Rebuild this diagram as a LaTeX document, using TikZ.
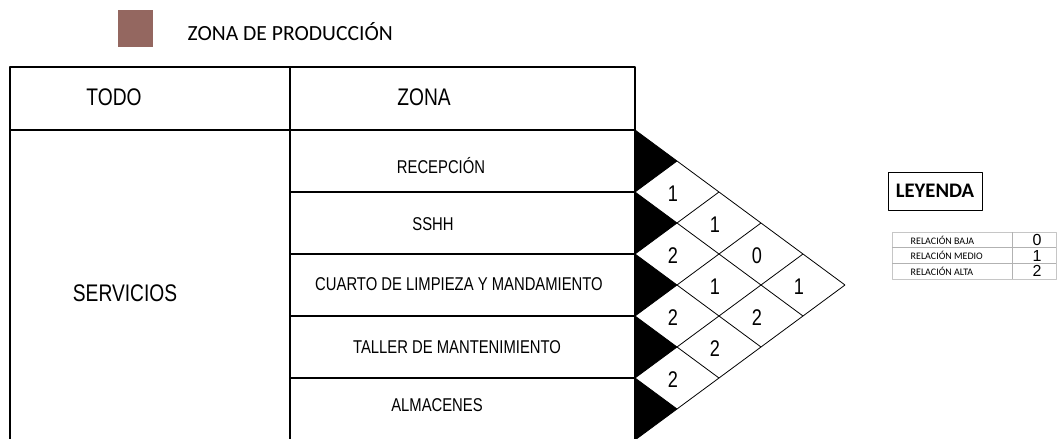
\documentclass[tikz,border=0pt]{standalone}
\usepackage{fontspec}
\setmainfont{Liberation Sans}
\newfontfamily\narrowsans[FakeStretch=0.8]{Liberation Sans}
\newfontfamily\calibsans{Carlito}
\definecolor{prodzone}{RGB}{148,103,96}
\tikzset{
  tabla/.style={line width=1.1pt},
  rombo/.style={line width=.6pt},
  cabecera/.style={font=\narrowsans\fontsize{18}{20}\selectfont},
  zona/.style={font=\narrowsans\fontsize{13.9}{15}\selectfont},
  valor/.style={font=\narrowsans\fontsize{17}{18}\selectfont},
  relacion/.style={font=\calibsans\fontsize{7.5}{8}\selectfont, anchor=west},
  nivel/.style={font=\fontsize{12}{13}\selectfont},
}
\begin{document}
\begin{tikzpicture}[x=.75pt,y=-.75pt, line join=round]
  \useasboundingbox (0,0) rectangle (1058,439);
  % zona de produccion
  \fill[prodzone] (118,10) rectangle (153,47);
  \node[font=\calibsans\fontsize{16.2}{18}\selectfont, anchor=west] (prod) at (183,32) {ZONA DE PRODUCCIÓN};
  % tabla
  \draw[tabla] (10,439) |- (635,67) -- (635,439);
  \draw[tabla] (10,130) -- (635,130);
  \draw[tabla] (290,67) -- (290,439);
  \foreach \y in {192,254,316,378}
    \draw[tabla] (290,\y) -- (635,\y);
  \node[cabecera] (todo) at (114,97) {TODO};
  \node[cabecera] (zona) at (424,97) {ZONA};
  \node[cabecera] (serv) at (125,293) {SERVICIOS};
  \node[zona] (recep) at (441,166) {RECEPCIÓN};
  \node[zona] (sshh) at (433,224) {SSHH};
  \node[zona] (cuarto) at (459,284) {CUARTO DE LIMPIEZA Y MANDAMIENTO};
  \node[zona] (taller) at (457,347) {TALLER DE MANTENIMIENTO};
  \node[zona] (almac) at (437,405) {ALMACENES};
  % matriz de relaciones
  \foreach \i in {1,...,5}
    \fill (635,{68+62*\i}) -- (677,{99+62*\i}) -- (635,{130+62*\i}) -- cycle;
  \foreach \k in {0,...,4}
    \draw[rombo] (635,{130+62*\k}) -- ++({42*(5-\k)},{31*(5-\k)});
  \foreach \k in {1,...,5}
    \draw[rombo] (635,{130+62*\k}) -- ++({42*\k},{-31*\k});
  \foreach \i/\j/\v in {1/2/1,2/3/2,3/4/2,4/5/2,1/3/1,2/4/1,3/5/2,1/4/0,2/5/2,1/5/1}
    \node[valor] (r\i\j) at ({631+42*(\j-\i)},{101+31*(\i+\j)}) {\v};
  % leyenda
  \node[draw, line width=.6pt, minimum width=70.5pt, minimum height=28.5pt,
    font=\calibsans\bfseries\fontsize{15.5}{17}\selectfont] (leyenda) at (935,191) {LEYENDA};
  \draw[gray!45, line width=.5pt] (892,232) rectangle (1056,279);
  \draw[gray!60, line width=.5pt] (892,247.7) -- (1056,247.7) (892,263.3) -- (1056,263.3)
    (1012,232) -- (1012,279);
  \node[relacion] (baja) at (906,240) {RELACIÓN BAJA};
  \node[relacion] (medio) at (906,255.5) {RELACIÓN MEDIO};
  \node[relacion] (alta) at (906,271) {RELACIÓN ALTA};
  \node[nivel] (n0) at (1037,240) {0};
  \node[nivel] (n1) at (1037,255.5) {1};
  \node[nivel] (n2) at (1037,271) {2};
\end{tikzpicture}
\end{document}
